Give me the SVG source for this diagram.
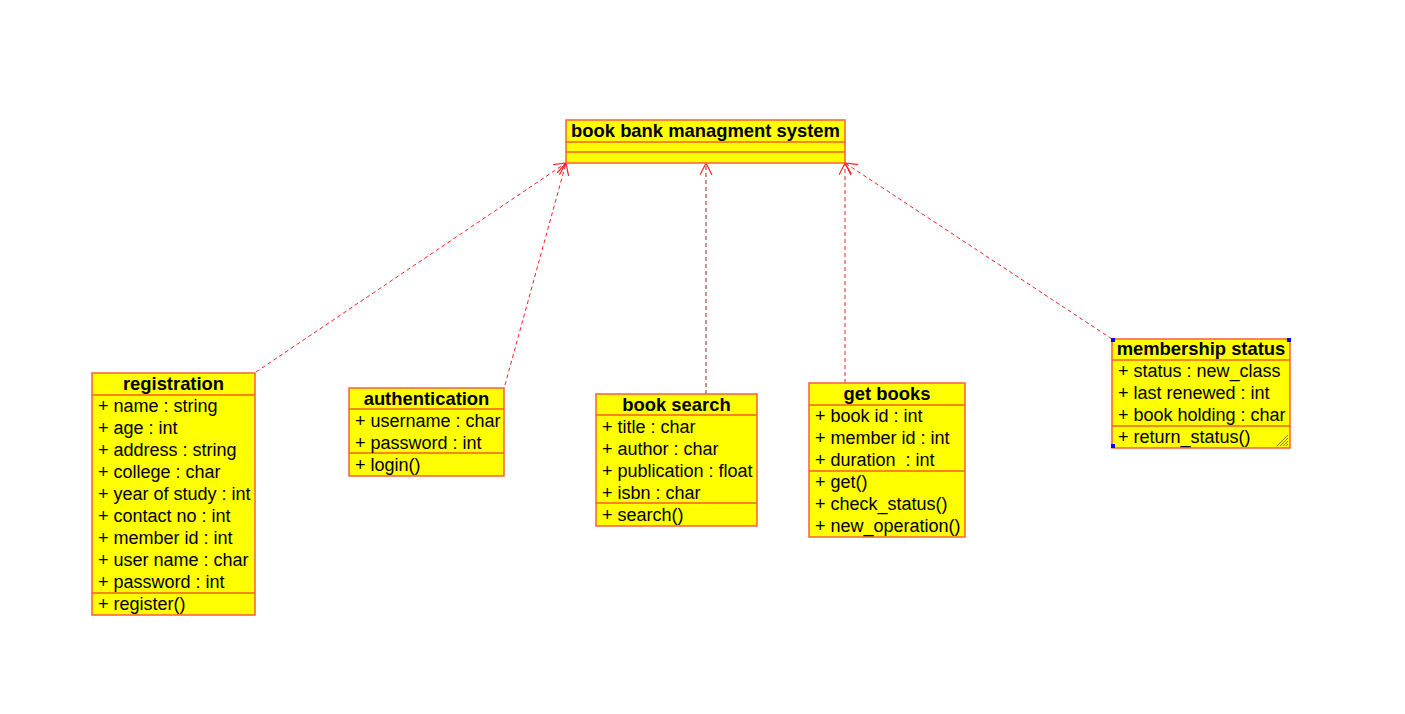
<svg xmlns="http://www.w3.org/2000/svg" width="1405" height="714" viewBox="0 0 1405 714">
<style>
.box{fill:#ffff00;stroke:#f4603c;stroke-width:1.5}
.sep{stroke:#f46020;stroke-width:1.5}
.t{font-family:"Liberation Sans",Arial,sans-serif;font-size:18px;fill:#000}
.h{font-family:"Liberation Sans",Arial,sans-serif;font-size:18.4px;font-weight:bold;fill:#000;text-anchor:middle}
.c{fill:none;stroke:#ff2020;stroke-width:1;stroke-dasharray:4,3}
.cd{fill:none;stroke:#a02020;stroke-width:1;stroke-dasharray:4,3}
</style>
<defs>
<marker id="open" markerWidth="14" markerHeight="14" refX="12" refY="6" orient="auto" markerUnits="userSpaceOnUse">
<path d="M0,0 L12,6 L0,12" fill="none" stroke="#ff2020" stroke-width="1.2"/>
</marker>
</defs>
<rect width="1405" height="714" fill="#fff"/>
<g id="connectors">
<line class="c" x1="256" y1="372" x2="566" y2="163" marker-end="url(#open)"/>
<line class="c" x1="505" y1="385" x2="566" y2="163" marker-end="url(#open)"/>
<line class="cd" x1="706" y1="394" x2="706" y2="163" marker-end="url(#open)"/>
<line class="c" x1="845" y1="383" x2="845" y2="163" marker-end="url(#open)"/>
<line class="c" x1="1112" y1="339" x2="845" y2="163" marker-end="url(#open)"/>
</g>
<g id="system">
<rect class="box" x="566" y="120" width="279" height="43"/>
<line class="sep" x1="566" y1="142" x2="845" y2="142"/>
<line class="sep" x1="566" y1="152" x2="845" y2="152"/>
<text class="h" x="705.5" y="137">book bank managment system</text>
</g>
<g id="registration">
<rect class="box" x="92" y="373" width="163" height="242"/>
<line class="sep" x1="92" y1="395" x2="255" y2="395"/>
<line class="sep" x1="92" y1="593" x2="255" y2="593"/>
<text class="h" x="173.5" y="390">registration</text>
<text class="t" x="98" y="412">+ name : string</text>
<text class="t" x="98" y="434">+ age : int</text>
<text class="t" x="98" y="456">+ address : string</text>
<text class="t" x="98" y="478">+ college : char</text>
<text class="t" x="98" y="500">+ year of study : int</text>
<text class="t" x="98" y="522">+ contact no : int</text>
<text class="t" x="98" y="544">+ member id : int</text>
<text class="t" x="98" y="566">+ user name : char</text>
<text class="t" x="98" y="588">+ password : int</text>
<text class="t" x="98" y="610">+ register()</text>
</g>
<g id="authentication">
<rect class="box" x="349" y="388" width="155" height="88"/>
<line class="sep" x1="349" y1="409" x2="504" y2="409"/>
<line class="sep" x1="349" y1="453" x2="504" y2="453"/>
<text class="h" x="426.5" y="405">authentication</text>
<text class="t" x="355" y="427">+ username : char</text>
<text class="t" x="355" y="449">+ password : int</text>
<text class="t" x="355" y="471">+ login()</text>
</g>
<g id="booksearch">
<rect class="box" x="596" y="394" width="161" height="132"/>
<line class="sep" x1="596" y1="415" x2="757" y2="415"/>
<line class="sep" x1="596" y1="503" x2="757" y2="503"/>
<text class="h" x="676.5" y="411">book search</text>
<text class="t" x="602" y="433">+ title : char</text>
<text class="t" x="602" y="455">+ author : char</text>
<text class="t" x="602" y="477">+ publication : float</text>
<text class="t" x="602" y="499">+ isbn : char</text>
<text class="t" x="602" y="521">+ search()</text>
</g>
<g id="getbooks">
<rect class="box" x="809" y="383" width="156" height="154"/>
<line class="sep" x1="809" y1="405" x2="965" y2="405"/>
<line class="sep" x1="809" y1="471" x2="965" y2="471"/>
<text class="h" x="887" y="400">get books</text>
<text class="t" x="815" y="422">+ book id : int</text>
<text class="t" x="815" y="444">+ member id : int</text>
<text class="t" x="815" y="466" xml:space="preserve">+ duration  : int</text>
<text class="t" x="815" y="488">+ get()</text>
<text class="t" x="815" y="510">+ check_status()</text>
<text class="t" x="815" y="532">+ new_operation()</text>
</g>
<g id="membership">
<rect class="box" x="1112" y="339" width="178" height="109"/>
<line class="sep" x1="1112" y1="360" x2="1290" y2="360"/>
<line class="sep" x1="1112" y1="426" x2="1290" y2="426"/>
<text class="h" x="1201" y="355">membership status</text>
<text class="t" x="1118" y="377">+ status : new_class</text>
<text class="t" x="1118" y="399">+ last renewed : int</text>
<text class="t" x="1118" y="421">+ book holding : char</text>
<text class="t" x="1118" y="443">+ return_status()</text>
<g stroke="#808000" stroke-width="1">
<line x1="1277" y1="446" x2="1288" y2="435"/>
<line x1="1280" y1="446" x2="1288" y2="438"/>
<line x1="1283" y1="446" x2="1288" y2="441"/>
<line x1="1286" y1="446" x2="1288" y2="444"/>
</g>
<rect x="1111" y="338" width="4" height="4" fill="#0000ff"/>
<rect x="1287" y="338" width="4" height="4" fill="#0000ff"/>
<rect x="1111" y="444" width="4" height="4" fill="#0000ff"/>
</g>
</svg>
